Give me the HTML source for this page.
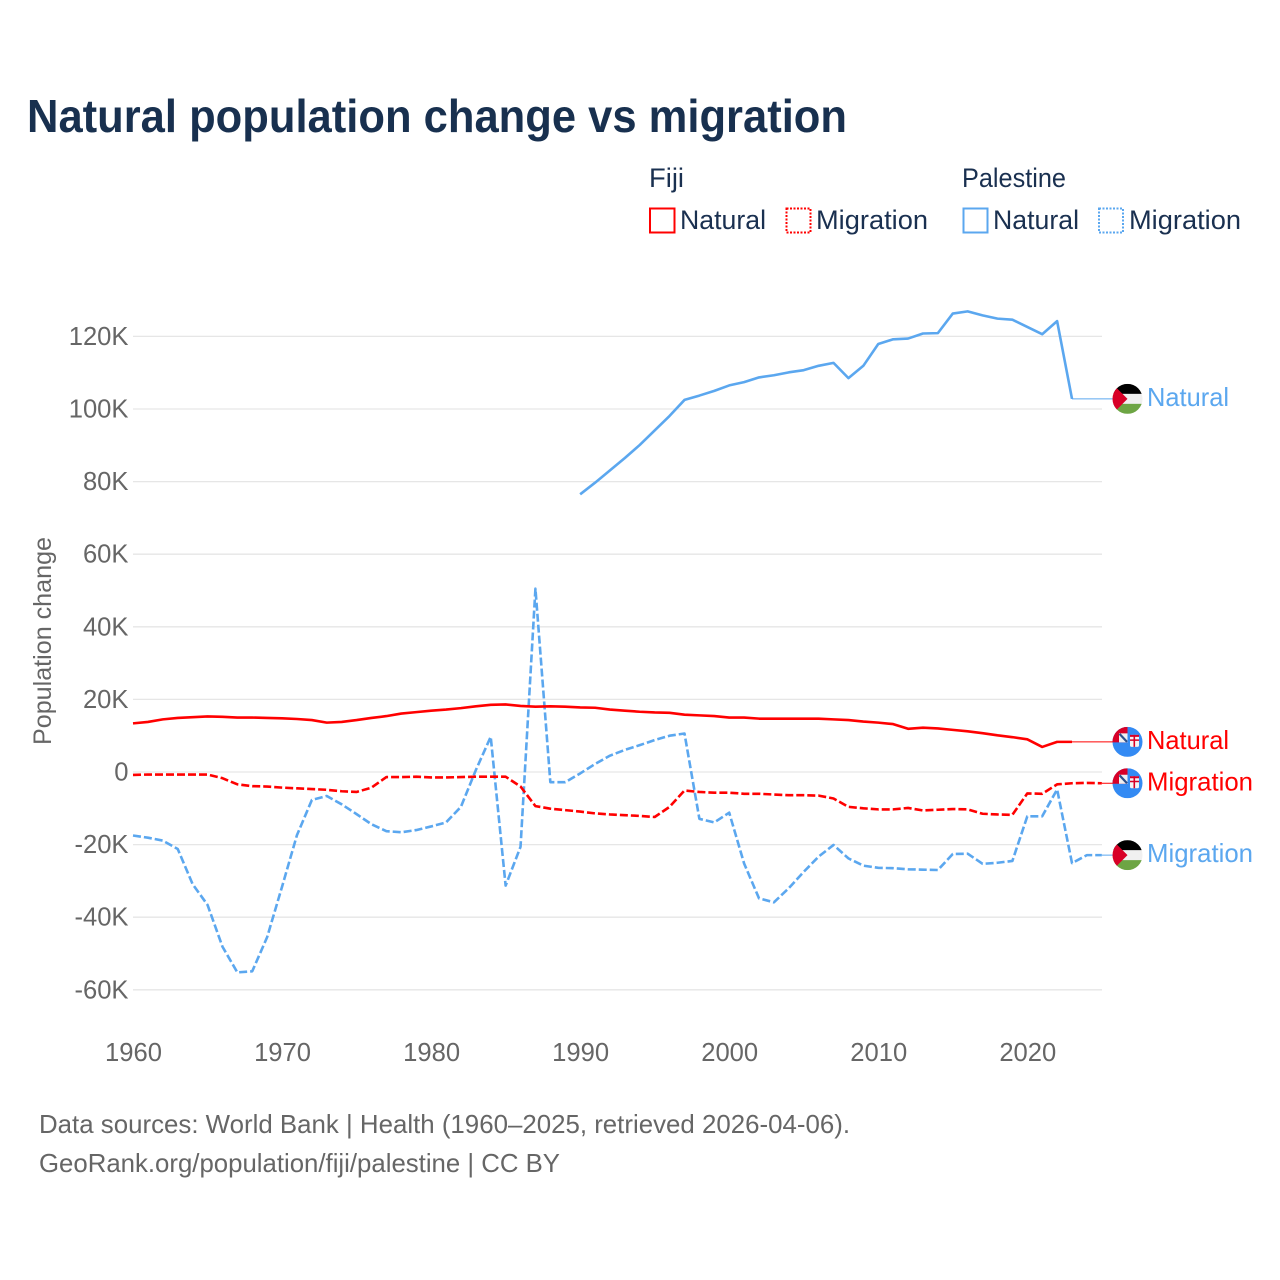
<!DOCTYPE html>
<html lang="en">
<head>
<meta charset="utf-8">
<title>Natural population change vs migration</title>
<style>
html,body{margin:0;padding:0;background:#fff}
svg{display:block}
text{font-family:"Liberation Sans",sans-serif}
</style>
</head>
<body>
<svg id="chart" xmlns="http://www.w3.org/2000/svg" width="1280" height="1280" viewBox="0 0 1280 1280">
  <defs>
    <clipPath id="flag-clip"><circle cx="15" cy="15" r="15"/></clipPath>
    <symbol id="flag-fiji" width="30" height="30" viewBox="0 0 30 30">
      <g clip-path="url(#flag-clip)">
        <rect width="30" height="30" fill="#338af3"/>
        <rect x="0" y="0" width="15" height="15.5" fill="#d80027"/>
        <rect x="6.5" y="6.5" width="8.5" height="9" fill="#f0f0f0"/>
        <path d="M7 7 L14.5 15" stroke="#2c4f8a" stroke-width="2.2"/>
        <rect x="17.5" y="8" width="9" height="12" rx="1.5" fill="#f4f4f4"/>
        <rect x="17.5" y="8" width="9" height="2" fill="#d80027"/>
        <rect x="17.5" y="12.5" width="9" height="1.5" fill="#d80027"/>
        <rect x="21" y="8" width="1.6" height="12" fill="#d80027"/>
      </g>
    </symbol>
    <symbol id="flag-palestine" width="30" height="30" viewBox="0 0 30 30">
      <g clip-path="url(#flag-clip)">
        <rect width="30" height="30" fill="#f0f0f0"/>
        <rect width="30" height="10" fill="#000"/>
        <rect y="20" width="30" height="10" fill="#6da544"/>
        <path d="M0 0 L15 15 L0 30 Z" fill="#d80027"/>
      </g>
    </symbol>
  </defs>

  <text x="27" y="132" font-size="46" font-weight="700" fill="#18304f" textLength="820" lengthAdjust="spacingAndGlyphs">Natural population change vs migration</text>

  <g fill="#1a3050" font-size="27">
    <text x="649" y="187" textLength="35" lengthAdjust="spacingAndGlyphs">Fiji</text>
    <text x="962" y="187" textLength="104" lengthAdjust="spacingAndGlyphs">Palestine</text>

    <rect x="650" y="208.5" width="24.5" height="24" fill="none" stroke="#ff0000" stroke-width="2"/>
    <text x="680" y="229" textLength="86" lengthAdjust="spacingAndGlyphs">Natural</text>
    <rect x="786.5" y="208.5" width="24" height="24" fill="none" stroke="#ff0000" stroke-width="2" stroke-dasharray="2 1.5"/>
    <text x="816" y="229" textLength="112" lengthAdjust="spacingAndGlyphs">Migration</text>

    <rect x="963.5" y="208.5" width="24" height="24" fill="none" stroke="#5ba7ef" stroke-width="2"/>
    <text x="993" y="229" textLength="86" lengthAdjust="spacingAndGlyphs">Natural</text>
    <rect x="1099" y="208.5" width="24" height="24" fill="none" stroke="#5ba7ef" stroke-width="2" stroke-dasharray="2 1.5"/>
    <text x="1129" y="229" textLength="112" lengthAdjust="spacingAndGlyphs">Migration</text>
  </g>

  <g id="grid"></g>
  <g id="yticks"></g>
  <g id="xticks"></g>
  <g id="series"></g>
  <g id="endlabels"></g>

  <text transform="translate(51,745) rotate(-90)" font-size="25" fill="#666666" textLength="208" lengthAdjust="spacingAndGlyphs">Population change</text>

  <text x="39" y="1133" font-size="26" fill="#666666" textLength="811" lengthAdjust="spacingAndGlyphs">Data sources: World Bank | Health (1960–2025, retrieved 2026-04-06).</text>
  <text x="39" y="1172" font-size="26" fill="#666666" textLength="521" lengthAdjust="spacingAndGlyphs">GeoRank.org/population/fiji/palestine | CC BY</text>

<script>
// Chart data (values in thousands of people per year)
const startYear = 1960;
const palestineNaturalStart = 1990;
const xTickYears = [1960, 1970, 1980, 1990, 2000, 2010, 2020];
const yTickValues = [-60, -40, -20, 0, 20, 40, 60, 80, 100, 120];
const yTickLabels = ["-60K", "-40K", "-20K", "0", "20K", "40K", "60K", "80K", "100K", "120K"];

const fijiNatural = [13.4,13.8,14.5,14.9,15.1,15.3,15.2,15.0,15.0,14.9,14.8,14.6,14.3,13.6,13.8,14.3,14.9,15.4,16.1,16.5,16.9,17.2,17.6,18.1,18.5,18.6,18.2,18.0,18.1,18.0,17.8,17.7,17.2,16.9,16.6,16.4,16.3,15.8,15.6,15.4,15.0,15.0,14.7,14.7,14.7,14.7,14.7,14.5,14.3,13.9,13.6,13.2,11.9,12.2,12.0,11.6,11.2,10.7,10.1,9.6,9.0,6.9,8.3,8.3];

const fijiMigration = [-0.8,-0.7,-0.7,-0.7,-0.7,-0.7,-1.7,-3.4,-3.9,-4.0,-4.3,-4.5,-4.7,-4.9,-5.3,-5.5,-4.3,-1.4,-1.4,-1.3,-1.5,-1.5,-1.4,-1.3,-1.3,-1.3,-4.0,-9.4,-10.1,-10.5,-10.9,-11.4,-11.7,-11.9,-12.1,-12.4,-9.6,-5.1,-5.5,-5.7,-5.7,-6.0,-6.0,-6.2,-6.4,-6.4,-6.5,-7.3,-9.6,-10.0,-10.3,-10.3,-9.9,-10.6,-10.4,-10.2,-10.3,-11.5,-11.7,-11.8,-5.9,-6.0,-3.4,-3.1,-3.0,-3.1];

const palestineNatural = [76.5,79.7,83.1,86.5,90.1,94.1,98.1,102.5,103.7,105.0,106.5,107.4,108.7,109.3,110.1,110.7,111.9,112.7,108.5,111.9,117.9,119.2,119.4,120.8,120.9,126.3,126.9,125.8,124.9,124.6,122.6,120.6,124.2,102.8];

const palestineMigration = [-17.5,-18.1,-18.9,-21.2,-30.9,-36.6,-48.1,-55.2,-54.9,-45.5,-31.6,-17.4,-7.7,-6.6,-8.9,-11.6,-14.4,-16.3,-16.6,-16.0,-15.0,-13.9,-9.6,0.5,9.7,-31.3,-20.6,50.5,-2.8,-2.8,-0.4,2.2,4.5,6.1,7.4,8.8,10.0,10.6,-12.9,-13.9,-11.2,-25.2,-34.8,-35.9,-32.0,-27.5,-23.3,-20.1,-23.8,-25.8,-26.4,-26.5,-26.8,-26.9,-27.0,-22.6,-22.5,-25.3,-25.0,-24.5,-12.2,-12.2,-4.8,-25.1,-22.9,-22.9];

// Axis functions
const xScale = year => 133 + (year - 1960) * 14.905;
const yScale = value => 772 - value * 3.63;

const SVGNS = "http://www.w3.org/2000/svg";
const RED = "#ff0000";
const BLUE = "#5ba7ef";
const GREY = "#666666";

function add(parent, tag, attrs, text) {
  const el = document.createElementNS(SVGNS, tag);
  for (const k in attrs) el.setAttribute(k, attrs[k]);
  if (text !== undefined) el.textContent = text;
  document.getElementById(parent).appendChild(el);
  return el;
}

// Gridlines and Y ticks
yTickValues.forEach((v, i) => {
  const y = yScale(v);
  const line = add("grid", "line", {x1: 133, x2: 1102, y1: y, y2: y, stroke: "#e6e6e6", "stroke-width": 1.3});
  
  
  const label = add("yticks", "text", {x: 128.5, y: y + 8.5, "text-anchor": "end", "font-size": 25.6, fill: GREY}, yTickLabels[i]);
  
  
});

// X ticks
xTickYears.forEach(year => {
  const label = add("xticks", "text", {x: xScale(year) + 0.5, y: 1061, "text-anchor": "middle", "font-size": 25.6, fill: GREY}, String(year));
  
  
});

function pointsFor(values, firstYear) {
  return values.map((v, i) => xScale(firstYear + i).toFixed(2) + "," + yScale(v).toFixed(2)).join(" ");
}

function drawSeries(values, firstYear, color, dashed, name) {
  const attrs = {points: pointsFor(values, firstYear), fill: "none", stroke: color, "stroke-width": 2.6, "stroke-linejoin": "round"};
  if (dashed) attrs["stroke-dasharray"] = "8 3";
  const line = add("series", "polyline", attrs);
  
  
}

drawSeries(palestineMigration, startYear, BLUE, true, 'line-palestine-migration');
drawSeries(palestineNatural, palestineNaturalStart, BLUE, false, 'line-palestine-natural');
drawSeries(fijiMigration, startYear, RED, true, 'line-fiji-migration');
drawSeries(fijiNatural, startYear, RED, false, 'line-fiji-natural');

function drawEndLabel(values, firstYear, color, flag, text, name) {
  const last = values[values.length - 1];
  const y = yScale(last);
  const xEnd = xScale(firstYear + values.length - 1);
  const conn = add("endlabels", "line", {x1: xEnd, x2: 1113, y1: y, y2: y, stroke: color, "stroke-width": 1});
  
  
  const icon = add("endlabels", "use", {href: "#" + flag, x: 1112.5, y: y - 15, width: 30, height: 30});
  
  
  const label = add("endlabels", "text", {x: 1147, y: y + 7, "font-size": 26, fill: color, textLength: text === "Natural" ? 82 : 106, lengthAdjust: "spacingAndGlyphs"}, text);
  
  
}

drawEndLabel(palestineNatural, palestineNaturalStart, BLUE, "flag-palestine", "Natural", 'end-palestine-natural');
drawEndLabel(fijiNatural, startYear, RED, "flag-fiji", "Natural", 'end-fiji-natural');
drawEndLabel(fijiMigration, startYear, RED, "flag-fiji", "Migration", 'end-fiji-migration');
drawEndLabel(palestineMigration, startYear, BLUE, "flag-palestine", "Migration", 'end-palestine-migration');
</script>
</svg>
</body>
</html>
